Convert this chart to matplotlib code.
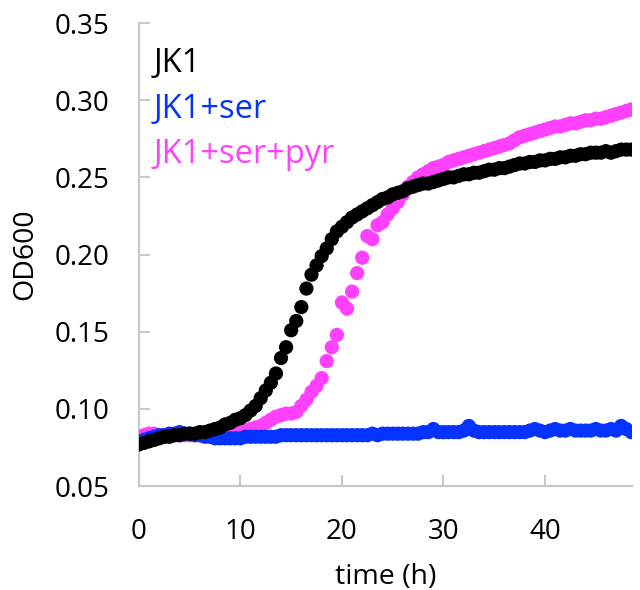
import matplotlib
matplotlib.use("Agg")
import matplotlib.pyplot as plt

# OD600 readings every 30 min, 0 to 48.5 h
TIME_H = [
    0.0, 0.5, 1.0, 1.5, 2.0, 2.5, 3.0, 3.5, 4.0, 4.5,
    5.0, 5.5, 6.0, 6.5, 7.0, 7.5, 8.0, 8.5, 9.0, 9.5,
    10.0, 10.5, 11.0, 11.5, 12.0, 12.5, 13.0, 13.5, 14.0, 14.5,
    15.0, 15.5, 16.0, 16.5, 17.0, 17.5, 18.0, 18.5, 19.0, 19.5,
    20.0, 20.5, 21.0, 21.5, 22.0, 22.5, 23.0, 23.5, 24.0, 24.5,
    25.0, 25.5, 26.0, 26.5, 27.0, 27.5, 28.0, 28.5, 29.0, 29.5,
    30.0, 30.5, 31.0, 31.5, 32.0, 32.5, 33.0, 33.5, 34.0, 34.5,
    35.0, 35.5, 36.0, 36.5, 37.0, 37.5, 38.0, 38.5, 39.0, 39.5,
    40.0, 40.5, 41.0, 41.5, 42.0, 42.5, 43.0, 43.5, 44.0, 44.5,
    45.0, 45.5, 46.0, 46.5, 47.0, 47.5, 48.0, 48.5,
]

OD_JK1 = [
    0.077, 0.078, 0.079, 0.080, 0.081, 0.082, 0.082, 0.083, 0.083, 0.084,
    0.084, 0.084, 0.085, 0.085, 0.086, 0.087, 0.088, 0.090, 0.091, 0.093,
    0.094, 0.096, 0.099, 0.102, 0.107, 0.112, 0.117, 0.123, 0.133, 0.140,
    0.151, 0.157, 0.166, 0.178, 0.187, 0.193, 0.199, 0.204, 0.210, 0.215,
    0.218, 0.221, 0.224, 0.226, 0.228, 0.230, 0.232, 0.234, 0.236, 0.237,
    0.239, 0.240, 0.241, 0.243, 0.244, 0.245, 0.246, 0.246, 0.247, 0.248,
    0.249, 0.250, 0.250, 0.251, 0.252, 0.252, 0.253, 0.253, 0.254, 0.255,
    0.255, 0.256, 0.256, 0.257, 0.258, 0.259, 0.259, 0.260, 0.260, 0.261,
    0.261, 0.262, 0.262, 0.263, 0.263, 0.264, 0.264, 0.265, 0.265, 0.266,
    0.266, 0.266, 0.267, 0.266, 0.267, 0.268, 0.268, 0.268,
]

OD_SER = [
    0.079, 0.080, 0.081, 0.082, 0.083, 0.083, 0.084, 0.084, 0.085, 0.084,
    0.084, 0.083, 0.083, 0.082, 0.082, 0.081, 0.081, 0.081, 0.081, 0.081,
    0.081, 0.082, 0.082, 0.082, 0.082, 0.082, 0.082, 0.082, 0.083, 0.083,
    0.083, 0.083, 0.083, 0.083, 0.083, 0.083, 0.083, 0.083, 0.083, 0.083,
    0.083, 0.083, 0.083, 0.083, 0.083, 0.083, 0.084, 0.083, 0.084, 0.084,
    0.084, 0.084, 0.084, 0.084, 0.084, 0.084, 0.085, 0.085, 0.087, 0.085,
    0.085, 0.085, 0.085, 0.085, 0.086, 0.089, 0.086, 0.085, 0.085, 0.085,
    0.085, 0.085, 0.085, 0.085, 0.085, 0.085, 0.085, 0.086, 0.087, 0.086,
    0.085, 0.086, 0.087, 0.086, 0.086, 0.087, 0.086, 0.086, 0.086, 0.086,
    0.087, 0.086, 0.086, 0.087, 0.086, 0.089, 0.087, 0.085,
]

OD_SER_PYR = [
    0.081, 0.083, 0.084, 0.084, 0.083, 0.083, 0.083, 0.083, 0.083, 0.083,
    0.083, 0.083, 0.083, 0.083, 0.083, 0.083, 0.083, 0.084, 0.084, 0.085,
    0.085, 0.086, 0.087, 0.088, 0.089, 0.091, 0.093, 0.095, 0.096, 0.097,
    0.097, 0.098, 0.102, 0.106, 0.111, 0.115, 0.120, 0.131, 0.140, 0.148,
    0.169, 0.165, 0.176, 0.188, 0.198, 0.212, 0.210, 0.219, 0.221, 0.226,
    0.230, 0.234, 0.239, 0.244, 0.247, 0.250, 0.252, 0.254, 0.256, 0.257,
    0.258, 0.260, 0.261, 0.262, 0.263, 0.264, 0.265, 0.266, 0.267, 0.268,
    0.269, 0.270, 0.271, 0.272, 0.274, 0.276, 0.277, 0.278, 0.279, 0.280,
    0.281, 0.282, 0.283, 0.283, 0.284, 0.285, 0.285, 0.286, 0.287, 0.287,
    0.288, 0.288, 0.289, 0.290, 0.291, 0.292, 0.293, 0.294,
]

SERIES = [
    # (label, values, colour) -- drawn in this order, JK1 ends up on top
    ("JK1+ser+pyr", OD_SER_PYR, "#FF40FF"),
    ("JK1+ser", OD_SER, "#0433FF"),
    ("JK1", OD_JK1, "#000000"),
]
LEGEND_ORDER = ["JK1", "JK1+ser", "JK1+ser+pyr"]

plt.rcParams["font.family"] = ["Open Sans", "DejaVu Sans"]
AXIS_GREY = "#c8c8c8"

fig = plt.figure(figsize=(6.4, 5.9), dpi=100)
ax = fig.add_axes([0.217, 0.176, 0.771, 0.785])

colours = {}
for name, vals, col in SERIES:
    ax.scatter(TIME_H, vals, s=105, color=col, edgecolors="none", zorder=3)
    colours[name] = col

ax.set_xlim(0, 48.6)
ax.set_ylim(0.05, 0.35)
ax.set_xticks([0, 10, 20, 30, 40])
ax.set_yticks([0.05, 0.10, 0.15, 0.20, 0.25, 0.30, 0.35])
ax.set_yticklabels([f"{v:.2f}" for v in ax.get_yticks()])

for side in ("top", "right"):
    ax.spines[side].set_visible(False)
for side in ("left", "bottom"):
    ax.spines[side].set_color(AXIS_GREY)
    ax.spines[side].set_linewidth(1.6)
ax.tick_params(direction="in", length=8, width=1.4, color=AXIS_GREY,
               labelsize=20, labelcolor="black", pad=21)
ax.tick_params(axis="x", pad=23)

ax.set_xlabel("time (h)", fontsize=20.5, labelpad=12)
ax.set_ylabel("OD600", fontsize=20.5, labelpad=11)

# series names written straight on the plot instead of a boxed legend
for i, name in enumerate(LEGEND_ORDER):
    ax.text(0.030, 0.912 - i * 0.098, name, transform=ax.transAxes,
            fontsize=23.5, color=colours[name], va="center", ha="left")

fig.savefig("out.png", dpi=100)
